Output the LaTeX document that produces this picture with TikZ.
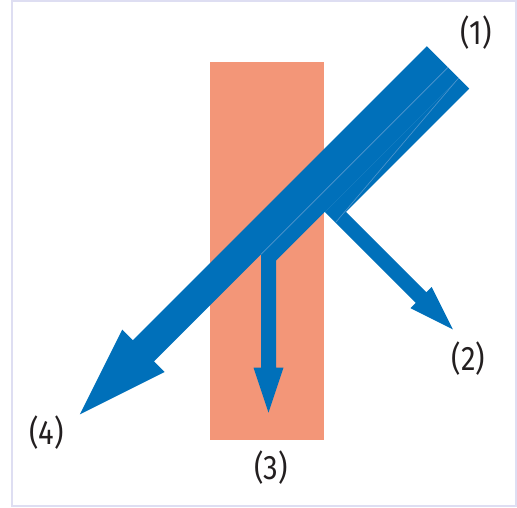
\documentclass[tikz,border=0pt]{standalone}
\usepackage{fontspec}
\newfontfamily\lblfont[FakeStretch=0.86]{Fira Sans}
\usetikzlibrary{calc}
\definecolor{beamblue}{RGB}{0,112,186}
\definecolor{seamblue}{RGB}{80,150,205}
\definecolor{slabcol}{RGB}{243,150,120}
\definecolor{framecol}{RGB}{222,222,242}
\definecolor{ink}{RGB}{35,31,32}
\tikzset{
  boxframe/.style={draw=framecol, line width=1.3pt},
  slab/.style={fill=slabcol},
  beam/.style={fill=beamblue},
  seam/.style={draw=seamblue, line width=0.6pt},
  lbl/.style={text=ink, font=\lblfont\fontsize{34}{34}\selectfont, inner sep=0pt},
}

\begin{document}
\begin{tikzpicture}[x=1pt, y=-1pt]
  \useasboundingbox (0,0) rectangle (517,507);
  \draw[boxframe] (12,1) rectangle (516,506);
  % slab
  \fill[slab] (210,62) rectangle (324,440);
  % beam end, split in three strips
  \coordinate (A)  at (426.8,46.2);
  \coordinate (S1) at (448.0,67.4);
  \coordinate (S2) at (458.6,78.0);
  \coordinate (B)  at (469.2,88.6);
  % (4) straight through
  \fill[beam] (A) -- (S1) -- (154.05,361.35) -- (164.65,371.95) -- (79.8,414.4)
     -- (122.25,329.55) -- (132.85,340.15) -- cycle;
  % (3) bent down
  \fill[beam] (S1) -- (S2) -- (276,260.6) -- (276,367.7) -- (283.5,367.7)
     -- (268.5,412.7) -- (253.5,367.7) -- (261,367.7) -- (261,254.4) -- cycle;
  % (2) turned off
  \fill[beam] (S2) -- (B) -- (345.95,211.85) -- (426.4,292.3) -- (431.7,287.0)
     -- (452.9,329.4) -- (410.5,308.2) -- (415.8,302.9) -- (324.75,211.85) -- cycle;
  \draw[seam] (S1) -- (261,254.4);
  \draw[seam] (S2) -- (335.5,222.6);
  % labels
  \node[lbl] (l1) at (476.2,32.7) {(1)};
  \node[lbl] (l2) at (468.3,358.3) {(2)};
  \node[lbl] (l3) at (271,467.5) {(3)};
  \node[lbl] (l4) at (46.7,432.8) {(4)};
\end{tikzpicture}
\end{document}
